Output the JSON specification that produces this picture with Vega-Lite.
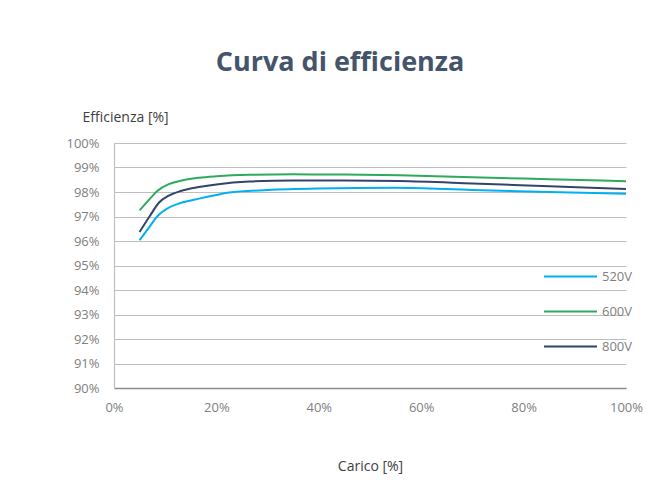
{
  "$schema": "https://vega.github.io/schema/vega-lite/v6.json",
  "width": 512,
  "height": 245,
  "autosize": {"type": "none"},
  "padding": {"left": 114, "top": 143, "right": 36, "bottom": 107},
  "background": "white",
  "title": {
    "text": "Curva di efficienza",
    "font": "Open Sans",
    "fontSize": 27,
    "fontWeight": "bold",
    "color": "#44546A",
    "anchor": "middle",
    "dx": -30,
    "offset": 33
  },
  "config": {
    "view": {"stroke": null},
    "font": "Open Sans"
  },
  "data": {
    "values": [
      {"serie": "520V", "carico": 5, "eff": 96.03},
      {"serie": "520V", "carico": 7, "eff": 96.6},
      {"serie": "520V", "carico": 8.5, "eff": 97.02},
      {"serie": "520V", "carico": 10.7, "eff": 97.36},
      {"serie": "520V", "carico": 13, "eff": 97.55},
      {"serie": "520V", "carico": 16.6, "eff": 97.73},
      {"serie": "520V", "carico": 20, "eff": 97.88},
      {"serie": "520V", "carico": 22.5, "eff": 97.98},
      {"serie": "520V", "carico": 30, "eff": 98.08},
      {"serie": "520V", "carico": 40, "eff": 98.14},
      {"serie": "520V", "carico": 55, "eff": 98.17},
      {"serie": "520V", "carico": 70, "eff": 98.08},
      {"serie": "520V", "carico": 85, "eff": 98.0},
      {"serie": "520V", "carico": 100, "eff": 97.93},
      {"serie": "600V", "carico": 5, "eff": 97.25},
      {"serie": "600V", "carico": 7, "eff": 97.72},
      {"serie": "600V", "carico": 8.5, "eff": 98.05},
      {"serie": "600V", "carico": 10.7, "eff": 98.32},
      {"serie": "600V", "carico": 13, "eff": 98.46},
      {"serie": "600V", "carico": 16.6, "eff": 98.58},
      {"serie": "600V", "carico": 20, "eff": 98.64},
      {"serie": "600V", "carico": 26.4, "eff": 98.7},
      {"serie": "600V", "carico": 35, "eff": 98.72},
      {"serie": "600V", "carico": 45, "eff": 98.71},
      {"serie": "600V", "carico": 55.7, "eff": 98.68},
      {"serie": "600V", "carico": 70, "eff": 98.6},
      {"serie": "600V", "carico": 85, "eff": 98.52},
      {"serie": "600V", "carico": 100, "eff": 98.44},
      {"serie": "800V", "carico": 5, "eff": 96.37},
      {"serie": "800V", "carico": 7, "eff": 97.02},
      {"serie": "800V", "carico": 8.8, "eff": 97.57},
      {"serie": "800V", "carico": 10.7, "eff": 97.85},
      {"serie": "800V", "carico": 13, "eff": 98.04},
      {"serie": "800V", "carico": 16.6, "eff": 98.2},
      {"serie": "800V", "carico": 20, "eff": 98.31},
      {"serie": "800V", "carico": 26.4, "eff": 98.43},
      {"serie": "800V", "carico": 35, "eff": 98.47},
      {"serie": "800V", "carico": 45, "eff": 98.47},
      {"serie": "800V", "carico": 55.7, "eff": 98.45},
      {"serie": "800V", "carico": 70, "eff": 98.35},
      {"serie": "800V", "carico": 85, "eff": 98.23},
      {"serie": "800V", "carico": 100, "eff": 98.12}
    ]
  },
  "mark": {"type": "line", "strokeWidth": 2, "interpolate": "monotone"},
  "encoding": {
    "x": {
      "field": "carico",
      "type": "quantitative",
      "scale": {"domain": [0, 100]},
      "axis": {
        "title": "Carico [%]",
        "titleFont": "Open Sans",
        "titleFontSize": 14,
        "titleFontWeight": "normal",
        "titleColor": "#404040",
        "titlePadding": 45,
        "values": [0, 20, 40, 60, 80, 100],
        "labelExpr": "datum.value + '%'",
        "labelFlush": false,
        "labelFontSize": 13,
        "labelColor": "#808080",
        "labelPadding": 13,
        "ticks": false,
        "grid": false,
        "domainColor": "#8c8c8c",
        "domainWidth": 1.5
      }
    },
    "y": {
      "field": "eff",
      "type": "quantitative",
      "scale": {"domain": [90, 100]},
      "axis": {
        "title": "Efficienza [%]",
        "titleFont": "Open Sans",
        "titleFontSize": 14,
        "titleFontWeight": "normal",
        "titleColor": "#404040",
        "titleAngle": 0,
        "titleAlign": "left",
        "titleBaseline": "middle",
        "titleX": -32,
        "titleY": -26,
        "values": [90, 91, 92, 93, 94, 95, 96, 97, 98, 99, 100],
        "labelExpr": "datum.value + '%'",
        "labelFontSize": 13,
        "labelColor": "#808080",
        "labelPadding": 15,
        "ticks": false,
        "grid": true,
        "gridColor": "#bfbfbf",
        "gridWidth": 1.2,
        "domainColor": "#bfbfbf",
        "domainWidth": 1.2
      }
    },
    "color": {
      "field": "serie",
      "type": "nominal",
      "scale": {"domain": ["520V", "600V", "800V"], "range": ["#00B0F0", "#2EAA5E", "#33446A"]},
      "legend": {
        "title": null,
        "orient": "none",
        "legendX": 429,
        "legendY": 106,
        "symbolType": "stroke",
        "symbolSize": 2809,
        "symbolStrokeWidth": 2,
        "labelFontSize": 13,
        "labelColor": "#808080",
        "labelOffset": 4,
        "rowPadding": -18.5
      }
    }
  }
}
